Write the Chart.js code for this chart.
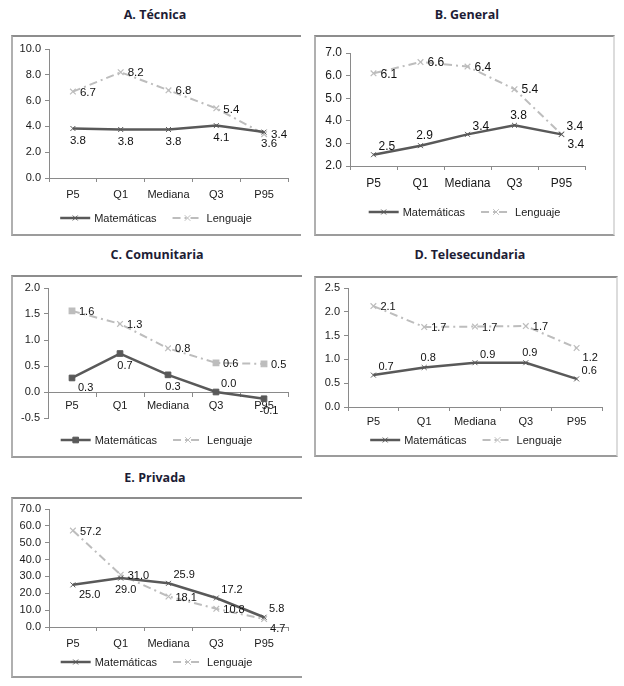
<!DOCTYPE html>
<html>
<head>
<meta charset="utf-8">
<script src="https://cdn.jsdelivr.net/npm/chart.js@4.4.0/dist/chart.umd.min.js"></script>
<style>
  body { margin: 0; background: #fff; width: 624px; height: 686px; position: relative; overflow: hidden; }
  .title { position: absolute; width: 300px; text-align: center; font-family: 'Open Sans', sans-serif; font-weight: 700; font-size: 12.5px; color: #1d1d35; }
  .box { position: absolute; box-sizing: border-box; border-top: 2px solid #8d8d8d; border-left: 2px solid #b0b0b0; border-bottom: 2px solid #9c9c9c; }
  .box.rt { border-right: 2px solid #dcdcdc; }
  canvas { position: absolute; }
</style>
</head>
<body>
<script>
// Categories and series
const categories = ['P5', 'Q1', 'Mediana', 'Q3', 'P95'];
const seriesNames = ['Matemáticas', 'Lenguaje'];

const tecnicaMat = [3.84, 3.76, 3.76, 4.06, 3.56];
const tecnicaLeng = [6.7, 8.2, 6.8, 5.4, 3.4];
const generalMat = [2.5, 2.9, 3.4, 3.8, 3.4];
const generalLeng = [6.1, 6.6, 6.4, 5.4, 3.4];
const comunitariaMat = [0.27, 0.74, 0.33, 0.0, -0.13];
const comunitariaLeng = [1.56, 1.31, 0.84, 0.56, 0.54];
const telesecMat = [0.67, 0.83, 0.93, 0.93, 0.59];
const telesecLeng = [2.12, 1.68, 1.69, 1.7, 1.24];
const privadaMat = [25.0, 29.0, 25.9, 17.2, 5.8];
const privadaLeng = [57.2, 31.0, 18.1, 10.8, 4.7];

// y axis: [min, max, step]
const tecnicaY = [0, 10, 2];
const generalY = [2, 7, 1];
const comunitariaY = [-0.5, 2, 0.5];
const telesecY = [0, 2.5, 0.5];
const privadaY = [0, 70, 10];

const MAT_COLOR = '#595959';
const LENG_COLOR = '#bdbdbd';
const AXIS_COLOR = '#8a8a8a';
const FONT = '"Liberation Sans", Arial, sans-serif';

// label offsets: [dx, dy, align]
const PLACE = {
    r: [7, 1, 'left'],
    b: [5, 12, 'center'],
    a: [4, -10, 'center'],
    ar: [5, -8, 'left'],
    br: [6, 10, 'left']
};

const panels = [
    {
        title: 'A. Técnica', titleX: 155, titleY: 6,
        box: [11, 35, 290, 201], area: [38, 277, 14, 143], legendY: 183, right: false,
        mat: tecnicaMat, leng: tecnicaLeng, y: tecnicaY, labelSize: 11.5, tickSize: 11, xPad: 6,
        matPlace: ['b', 'b', 'b', 'b', 'b'], lengPlace: ['r', 'r', 'r', 'r', 'r'],
        matStyle: 'crossRot', lengStyle: 'crossRot'
    },
    {
        title: 'B. General', titleX: 467, titleY: 6,
        box: [314, 35, 301, 201], area: [36, 271, 18, 131], legendY: 177, right: true,
        mat: generalMat, leng: generalLeng, y: generalY, labelSize: 12, tickSize: 12, xPad: 6,
        matPlace: ['ar', 'a', 'ar', 'a', 'br'], lengPlace: ['r', 'r', 'r', 'r', 'ar'],
        matStyle: 'crossRot', lengStyle: 'crossRot'
    },
    {
        title: 'C. Comunitaria', titleX: 157, titleY: 246,
        box: [11, 275, 291, 183], area: [37, 277, 13, 143], legendY: 165, right: false, xAtZero: true,
        mat: comunitariaMat, leng: comunitariaLeng, y: comunitariaY, labelSize: 11, tickSize: 11, xPad: 3,
        matPlace: ['br', 'b', 'b', 'ar', 'b'], lengPlace: ['r', 'r', 'r', 'r', 'r'],
        matStyle: 'rect', lengStyle: ['rect', 'crossRot', 'crossRot', 'rect', 'rect']
    },
    {
        title: 'D. Telesecundaria', titleX: 470, titleY: 246,
        box: [314, 276, 304, 181], area: [34, 288, 12, 131], legendY: 164, right: true,
        mat: telesecMat, leng: telesecLeng, y: telesecY, labelSize: 11, tickSize: 11, xPad: 4,
        matPlace: ['ar', 'a', 'ar', 'a', 'ar'], lengPlace: ['r', 'r', 'r', 'r', 'br'],
        matStyle: 'crossRot', lengStyle: 'crossRot'
    },
    {
        title: 'E. Privada', titleX: 155, titleY: 469,
        box: [11, 497, 291, 181], area: [38, 277, 12, 130], legendY: 165, right: false,
        mat: privadaMat, leng: privadaLeng, y: privadaY, labelSize: 11, tickSize: 11, xPad: 6,
        matPlace: ['br', 'b', 'ar', 'ar', 'ar'], lengPlace: ['r', 'r', 'r', 'r', 'br'],
        matStyle: 'crossRot', lengStyle: 'crossRot'
    }
];

// Value labels next to each point
const valueLabels = {
    id: 'valueLabels',
    afterDatasetsDraw(chart, args, opts) {
        const ctx = chart.ctx;
        ctx.save();
        ctx.font = `${opts.size}px ${FONT}`;
        ctx.fillStyle = '#111';
        ctx.textBaseline = 'middle';
        chart.data.datasets.forEach((ds, i) => {
            chart.getDatasetMeta(i).data.forEach((pt, j) => {
                const [dx, dy, align] = PLACE[ds.labelPlace[j]];
                ctx.textAlign = align;
                ctx.fillText(ds.data[j].toFixed(1), pt.x + dx, pt.y + dy);
            });
        });
        ctx.restore();
    }
};

// Excel-like legend: line sample with marker in the middle
const excelLegend = {
    id: 'excelLegend',
    afterDraw(chart, args, opts) {
        const ctx = chart.ctx;
        const sample = 30, gap = 4, between = 16;
        ctx.save();
        ctx.font = `11px ${FONT}`;
        const items = chart.data.datasets.map(ds => ({ ds, w: sample + gap + ctx.measureText(ds.label).width }));
        const total = items.reduce((s, it) => s + it.w, 0) + between * (items.length - 1);
        let x = (chart.width - total) / 2;
        const y = opts.y;
        items.forEach(({ ds, w }) => {
            ctx.strokeStyle = ds.borderColor;
            ctx.lineWidth = ds.borderWidth;
            ctx.setLineDash(ds.borderDash || []);
            ctx.beginPath();
            ctx.moveTo(x, y);
            ctx.lineTo(x + sample, y);
            ctx.stroke();
            ctx.setLineDash([]);
            const ps = Array.isArray(ds.pointStyle) ? ds.pointStyle[1] : ds.pointStyle;
            ctx.strokeStyle = ds.pointBorderColor;
            ctx.fillStyle = ds.pointBackgroundColor;
            ctx.lineWidth = 1;
            Chart.helpers.drawPoint(ctx, { pointStyle: ps, radius: ds.pointRadius, borderWidth: 1, rotation: 0 }, x + sample / 2, y);
            ctx.fillStyle = '#222';
            ctx.textAlign = 'left';
            ctx.textBaseline = 'middle';
            ctx.fillText(ds.label, x + sample + gap, y + 1);
            x += w + between;
        });
        ctx.restore();
    }
};

function buildPanel(p) {
    const [bx, by, bw, bh] = p.box;
    const [left, right, top, bottom] = p.area;

    const title = document.createElement('div');
    title.className = 'title';
    title.textContent = p.title;
    title.style.left = (p.titleX - 150) + 'px';
    title.style.top = p.titleY + 'px';
    document.body.appendChild(title);

    const box = document.createElement('div');
    box.className = 'box' + (p.right ? ' rt' : '');
    Object.assign(box.style, { left: bx + 'px', top: by + 'px', width: bw + 'px', height: bh + 'px' });
    document.body.appendChild(box);

    const canvas = document.createElement('canvas');
    canvas.width = bw;
    canvas.height = bh;
    Object.assign(canvas.style, { left: bx + 'px', top: by + 'px', width: bw + 'px', height: bh + 'px' });
    document.body.appendChild(canvas);

    const xHeight = 24;
    const padBottom = p.xAtZero ? bh - bottom : bh - bottom - xHeight;
    const tickFont = { family: FONT, size: p.tickSize };

    new Chart(canvas.getContext('2d'), {
        type: 'line',
        data: {
            labels: categories,
            datasets: [
                {
                    label: seriesNames[0], data: p.mat, labelPlace: p.matPlace,
                    borderColor: MAT_COLOR, borderWidth: 2.5, tension: 0,
                    pointStyle: p.matStyle, pointRadius: p.matStyle === 'rect' ? 4 : 3.5,
                    pointBorderColor: MAT_COLOR, pointBackgroundColor: MAT_COLOR, pointBorderWidth: 1
                },
                {
                    label: seriesNames[1], data: p.leng, labelPlace: p.lengPlace,
                    borderColor: LENG_COLOR, borderWidth: 2, borderDash: [8, 4, 2, 4], tension: 0,
                    pointStyle: p.lengStyle, pointRadius: 4,
                    pointBorderColor: LENG_COLOR, pointBackgroundColor: LENG_COLOR, pointBorderWidth: 1.2
                }
            ]
        },
        options: {
            responsive: false,
            animation: false,
            layout: { padding: { left: 0, right: bw - right, top: top, bottom: padBottom } },
            plugins: {
                legend: { display: false },
                tooltip: { enabled: false },
                valueLabels: { size: p.labelSize },
                excelLegend: { y: p.legendY }
            },
            scales: {
                x: {
                    type: 'category',
                    offset: true,
                    position: p.xAtZero ? { y: 0 } : 'bottom',
                    grid: { drawOnChartArea: false, offset: true, tickLength: 4, color: AXIS_COLOR },
                    border: { color: AXIS_COLOR, width: 1 },
                    ticks: { font: tickFont, color: '#1a1a1a', padding: p.xPad, maxRotation: 0, autoSkip: false },
                    afterFit: s => { s.height = xHeight; }
                },
                y: {
                    min: p.y[0], max: p.y[1],
                    grid: { drawOnChartArea: false, tickLength: 4, color: AXIS_COLOR },
                    border: { color: AXIS_COLOR, width: 1 },
                    ticks: { stepSize: p.y[2], font: tickFont, color: '#1a1a1a', padding: 4, callback: v => v.toFixed(1) },
                    afterFit: s => { s.width = left; }
                }
            }
        },
        plugins: [valueLabels, excelLegend]
    });
}

panels.forEach(buildPanel);
</script>
</body>
</html>
